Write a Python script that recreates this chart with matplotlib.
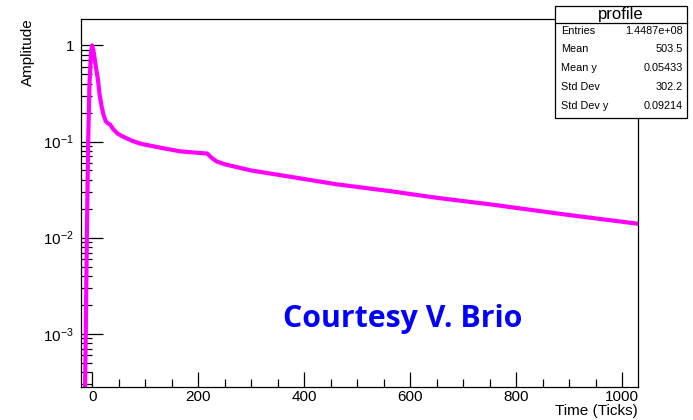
import matplotlib
matplotlib.use('Agg')
import matplotlib.pyplot as plt
from matplotlib.ticker import FixedLocator, FixedFormatter, MultipleLocator, LogLocator, NullFormatter

plt.rcParams['font.family'] = ['Liberation Sans', 'DejaVu Sans']
plt.rcParams['mathtext.fontset'] = 'custom'
plt.rcParams['mathtext.rm'] = 'Liberation Sans'
plt.rcParams['mathtext.it'] = 'Liberation Sans:italic'

# Pulse profile
time_ticks = [-14, -12, -10, -7.5, -5, -2, 0, 3, 7, 11, 14, 18, 22, 26, 30, 34, 40, 48,
              56, 75, 91, 130, 166, 204, 217, 225, 235, 250, 300, 374, 460, 562, 650,
              751, 900, 1028]
amplitude = [1.5e-4, 1e-3, 1e-2, 0.1, 0.4, 0.85, 1.0, 0.85, 0.6, 0.44, 0.31, 0.23,
             0.185, 0.162, 0.154, 0.150, 0.134, 0.121, 0.114, 0.102, 0.095, 0.086,
             0.079, 0.076, 0.075, 0.068, 0.062, 0.058, 0.050, 0.043, 0.036, 0.0305,
             0.026, 0.0222, 0.0172, 0.014]

stat_names = ['Entries', 'Mean', 'Mean y', 'Std Dev', 'Std Dev y']
stat_values = ['1.4487e+08', '503.5', '0.05433', '302.2', '0.09214']

W, H = 693, 420
fig = plt.figure(figsize=(W / 100, H / 100), dpi=100)
ax = fig.add_axes([81 / W, 1 - 387 / H, (638 - 81) / W, (387 - 19) / H])

ax.plot(time_ticks, amplitude, color='#ff00ff', lw=3, solid_joinstyle='round')

ax.set_yscale('log')
ax.set_xlim(-21, 1030)
ax.set_ylim(2.8e-4, 1.88)

ax.yaxis.set_major_locator(FixedLocator([1e-3, 1e-2, 1e-1, 1]))
ax.yaxis.set_major_formatter(FixedFormatter(['$10^{-3}$', '$10^{-2}$', '$10^{-1}$', '1']))
ax.yaxis.set_minor_locator(LogLocator(base=10, subs=range(2, 10)))
ax.yaxis.set_minor_formatter(NullFormatter())
ax.xaxis.set_major_locator(MultipleLocator(200))
ax.xaxis.set_minor_locator(MultipleLocator(50))

ax.tick_params(axis='both', which='both', direction='in', top=False, right=False,
               labelsize=11, width=0.9, color='black')
ax.tick_params(axis='y', which='major', length=16, pad=5)
ax.tick_params(axis='y', which='minor', length=8)
ax.tick_params(axis='x', which='major', length=11, pad=2)
ax.tick_params(axis='x', which='minor', length=5.5)
for sp in ax.spines.values():
    sp.set_linewidth(0.9)

fig.text(28 / W, 1 - 18 / H, 'Amplitude', rotation=90, ha='center', va='top', fontsize=11)
fig.text(638 / W, 1 - 404 / H, 'Time (Ticks)', ha='right', va='top', fontsize=11)

# stats box
bx0, bx1 = 555 / W, 687 / W
by0, by1 = 1 - 118 / H, 1 - 6 / H
hdr = 1 - 23 / H
fig.patches.append(plt.Rectangle((bx0, by0), bx1 - bx0, by1 - by0, transform=fig.transFigure,
                                 facecolor='white', edgecolor='black', lw=0.9, zorder=5))
fig.lines.append(plt.Line2D([bx0, bx1], [hdr, hdr], transform=fig.transFigure,
                            color='black', lw=0.9, zorder=6))
fig.text((bx0 + bx1) / 2, 1 - 14 / H, 'profile', ha='center', va='center', fontsize=12, zorder=7)
for i, (name, val) in enumerate(zip(stat_names, stat_values)):
    yy = 1 - (30.7 + i * 18.8) / H
    fig.text(561 / W, yy, name, ha='left', va='center', fontsize=7.8, zorder=7)
    fig.text(683 / W, yy, val, ha='right', va='center', fontsize=7.8, zorder=7)

fig.text(283 / W, 1 - 327 / H, 'Courtesy V. Brio', ha='left', va='baseline',
         fontsize=21.8, fontweight='bold', color='#0000ff', family=['Open Sans', 'DejaVu Sans'])

fig.savefig('out.png', dpi=100)
